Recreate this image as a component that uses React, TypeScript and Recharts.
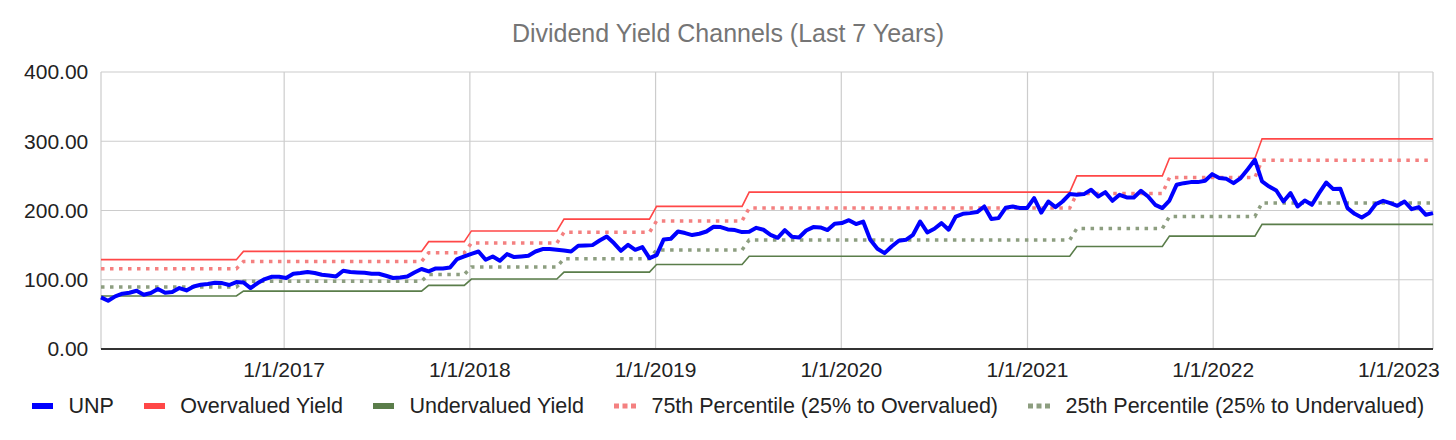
import { LineChart, Line, XAxis, YAxis, CartesianGrid } from 'recharts'

const FONT = "'Liberation Sans', Arial, sans-serif"

// biweekly samples, first one on 2016-01-07
const firstDate = Date.UTC(2016, 0, 7)
const stepDays = 14

const unp = [
  74.5, 69.7, 76, 79.8, 81.2, 84.1, 78.4, 80.8, 86.6, 81.2,
  82.2, 88, 84.6, 90.3, 92.8, 93.8, 95.7, 95.2, 92.4, 96.7,
  96.1, 88, 95.2, 101, 104.3, 104.3, 102.5, 108.7, 109.7, 111.1,
  109.7, 107.2, 106.2, 104.8, 113, 111.1, 110.5, 110.1, 108.7, 108.7,
  105.8, 102.5, 103.3, 104.8, 110.5, 115.5, 112, 116.3, 116.3, 117.7,
  129.9, 133.6, 137.5, 140.8, 128.9, 133.6, 127.4, 137, 132.7, 133.6,
  134.6, 140.8, 144.3, 144.3, 143.3, 142.3, 140.8, 149.1, 149.5, 150,
  156.7, 162.5, 153, 141.8, 150.5, 143.3, 147.2, 131.3, 135.5, 158.2,
  159.2, 169.7, 167.4, 164.5, 166.4, 169.7, 176.5, 176, 172.6, 171.7,
  168.8, 169.3, 175, 172.2, 164.9, 160.6, 171.7, 162, 161, 171.1,
  176, 175.5, 171.7, 180.8, 181.8, 186, 180.4, 184.1, 157.7, 144.7,
  138.5, 148.1, 156.3, 157.7, 164.9, 184.1, 168.3, 173.6, 181.8, 172.2,
  191.3, 195.2, 196.2, 197.7, 205.8, 187.6, 189, 203.9, 205.8, 203.5,
  203.5, 218, 197, 213, 204.9, 213, 223.7, 222.7, 223.7, 229.9,
  220.2, 226.5, 214, 222.7, 218.8, 218.8, 228.4, 220.2, 208.2, 203.5,
  214.4, 237.1, 239.5, 241, 241, 242.9, 252.5, 246.8, 245.7, 239.5,
  246.8, 259.7, 273.2, 241.9, 234.6, 228.9, 213, 225.1, 205.8, 214.4,
  208.2, 225.1, 240.4, 230.9, 231.3, 203.5, 195.2, 189.9, 196.2, 209.7,
  214, 210.7, 206.8, 213, 202, 204.9, 193.8, 196.2,
]

// channel levels, each one holds from the sample index in levelStarts
const levelStarts = [0, 20, 46, 52, 65, 78, 91, 137, 150, 163]
const overvalued = [129, 141, 155, 170.5, 187.5, 206, 226.5, 250, 275.5, 303.5]
const undervalued = [76.5, 83.6, 91.9, 101, 111, 122, 134, 148, 163, 180]
const pct75 = [116, 126.5, 139, 153, 168.5, 185, 203.5, 224.5, 247.5, 272.5]
const pct25 = [89.5, 98, 107.5, 118.5, 130.5, 143, 157.5, 174, 191.5, 211]

const yTicks = [0, 100, 200, 300, 400]
const tickYears = [2017, 2018, 2019, 2020, 2021, 2022, 2023]

const levelAt = (i: number) => {
  let k = 0
  while (k + 1 < levelStarts.length && levelStarts[k + 1] <= i) k++
  return k
}

const data = unp.map((value, i) => {
  const k = levelAt(i)
  return {
    date: firstDate + i * stepDays * 86400000,
    unp: value,
    over: overvalued[k],
    under: undervalued[k],
    p75: pct75[k],
    p25: pct25[k],
  }
})

const formatDate = (t: number) => {
  const d = new Date(t)
  return `${d.getUTCMonth() + 1}/${d.getUTCDate()}/${d.getUTCFullYear()}`
}

const legendItems = [
  { label: 'UNP', color: '#0000ff', dotted: false },
  { label: 'Overvalued Yield', color: '#ff4747', dotted: false },
  { label: 'Undervalued Yield', color: '#5a7d4a', dotted: false },
  { label: '75th Percentile (25% to Overvalued)', color: '#f48080', dotted: true },
  { label: '25th Percentile (25% to Undervalued)', color: '#8d9e80', dotted: true },
]

function Swatch({ color, dotted }: { color: string; dotted: boolean }) {
  if (!dotted) {
    return <div style={{ width: 21, height: 6, background: color }} />
  }
  return (
    <svg width={22} height={6} style={{ display: 'block' }}>
      <line x1={0} x2={22} y1={3} y2={3} stroke={color} strokeWidth={5} strokeDasharray="5 3.5" />
    </svg>
  )
}

export default function App() {
  return (
    <div style={{ position: 'relative', width: 1440, height: 424, fontFamily: FONT, background: '#fff' }}>
      <div
        style={{
          position: 'absolute',
          top: 10,
          left: 0,
          width: 1440,
          textAlign: 'center',
          fontSize: 25,
          lineHeight: '30px',
          color: '#757575',
        }}
      >
        Dividend Yield Channels (Last 7 Years)
      </div>

      <LineChart
        width={1440}
        height={424}
        data={data}
        margin={{ top: 64, right: 15, left: 0, bottom: 43 }}
      >
        <CartesianGrid stroke="#cccccc" strokeWidth={1.2} />
        <XAxis
          dataKey="date"
          type="number"
          domain={['dataMin', 'dataMax']}
          ticks={tickYears.map((y) => Date.UTC(y, 0, 1))}
          tickFormatter={formatDate}
          tickLine={false}
          tickSize={0}
          tickMargin={13.5}
          height={40}
          axisLine={{ stroke: '#333333', strokeWidth: 2 }}
          tick={{ fill: '#222222', fontSize: 21, fontFamily: FONT }}
        />
        <YAxis
          domain={[0, 400]}
          ticks={yTicks}
          tickFormatter={(v: number) => v.toFixed(2)}
          axisLine={false}
          tickLine={false}
          tickSize={0}
          tickMargin={12.7}
          width={93}
          tick={{ fill: '#222222', fontSize: 21, fontFamily: FONT }}
        />
        <Line
          dataKey="over"
          stroke="#ff4747"
          strokeWidth={1.6}
          dot={false}
          isAnimationActive={false}
        />
        <Line
          dataKey="under"
          stroke="#5a7d4a"
          strokeWidth={1.6}
          dot={false}
          isAnimationActive={false}
        />
        <Line
          dataKey="p75"
          stroke="#f48080"
          strokeWidth={3.5}
          strokeDasharray="3.5 5.5"
          dot={false}
          isAnimationActive={false}
        />
        <Line
          dataKey="p25"
          stroke="#8d9e80"
          strokeWidth={3.5}
          strokeDasharray="3.5 5.5"
          dot={false}
          isAnimationActive={false}
        />
        <Line
          dataKey="unp"
          stroke="#0000ff"
          strokeWidth={4}
          strokeLinejoin="round"
          dot={false}
          isAnimationActive={false}
        />
      </LineChart>

      <div
        style={{
          position: 'absolute',
          top: 386,
          left: 0,
          width: 1440,
          height: 24,
          display: 'flex',
          justifyContent: 'center',
          alignItems: 'center',
          gap: 30,
          fontSize: 21.5,
          lineHeight: '24px',
          color: '#222222',
        }}
      >
        {legendItems.map((item) => (
          <div key={item.label} style={{ display: 'flex', alignItems: 'center' }}>
            <Swatch color={item.color} dotted={item.dotted} />
            <span style={{ marginLeft: 15.5, whiteSpace: 'nowrap' }}>{item.label}</span>
          </div>
        ))}
      </div>
    </div>
  )
}
